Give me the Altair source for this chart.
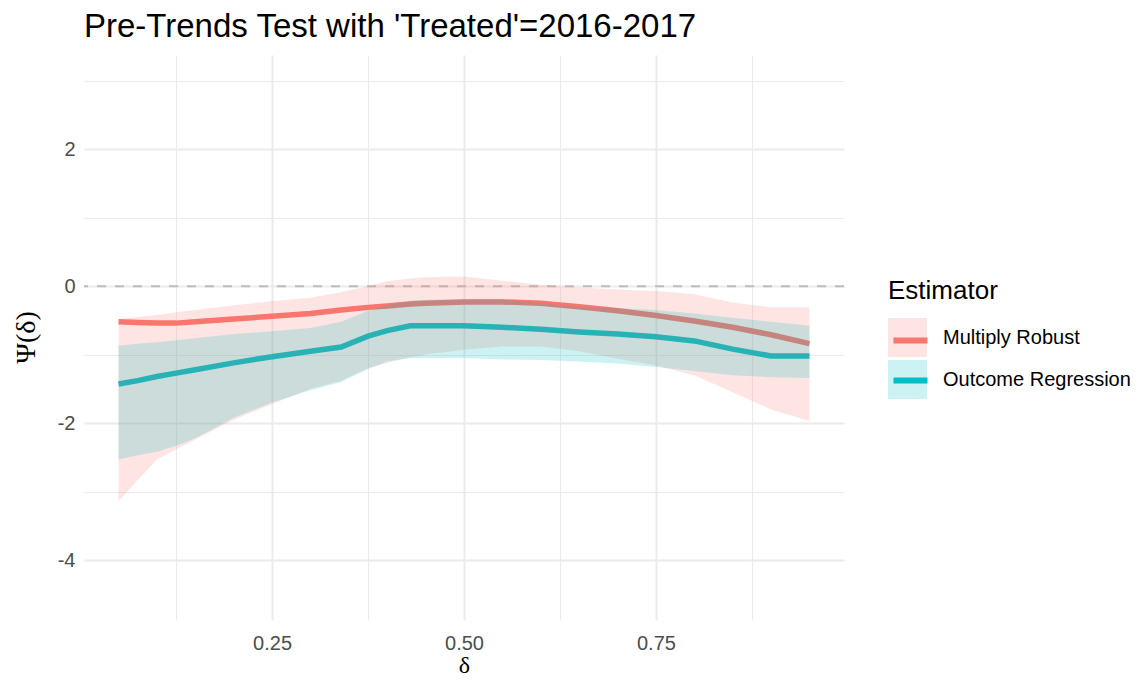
import altair as alt
import pandas as pd

# ---- data ----
delta = [0.05, 0.075, 0.10, 0.125, 0.15, 0.20, 0.25, 0.30, 0.34, 0.375, 0.40, 0.43,
         0.45, 0.50, 0.55, 0.60, 0.65, 0.70, 0.75, 0.80, 0.85, 0.90, 0.95]

mr_est = [-0.52, -0.53, -0.54, -0.54, -0.52, -0.48, -0.44, -0.40, -0.35, -0.31, -0.29, -0.26,
          -0.25, -0.23, -0.23, -0.25, -0.30, -0.36, -0.43, -0.51, -0.60, -0.71, -0.84]
mr_upper = [-0.48, -0.45, -0.42, -0.38, -0.35, -0.28, -0.22, -0.17, -0.09, 0.00, 0.07, 0.11,
            0.13, 0.14, 0.08, 0.02, -0.02, -0.05, -0.07, -0.12, -0.24, -0.31, -0.31]
mr_lower = [-3.14, -2.83, -2.53, -2.38, -2.24, -1.95, -1.72, -1.50, -1.38, -1.20, -1.12, -1.04,
            -1.00, -0.93, -0.88, -0.88, -0.95, -1.06, -1.16, -1.30, -1.55, -1.80, -1.97]

or_est = [-1.43, -1.38, -1.32, -1.27, -1.22, -1.12, -1.03, -0.95, -0.89, -0.73, -0.65, -0.58,
          -0.58, -0.58, -0.60, -0.63, -0.67, -0.70, -0.74, -0.80, -0.92, -1.02, -1.02]
or_upper = [-0.87, -0.84, -0.82, -0.79, -0.76, -0.70, -0.66, -0.61, -0.52, -0.36, -0.28, -0.21,
            -0.20, -0.19, -0.19, -0.25, -0.30, -0.32, -0.35, -0.40, -0.46, -0.52, -0.58]
or_lower = [-2.53, -2.47, -2.42, -2.33, -2.22, -1.92, -1.70, -1.52, -1.40, -1.21, -1.10, -1.05,
            -1.05, -1.05, -1.07, -1.08, -1.10, -1.13, -1.18, -1.24, -1.30, -1.33, -1.34]

estimators = ["Multiply Robust", "Outcome Regression"]
colors = ["#F8766D", "#00BFC4"]
ref_line = [0]

x_ticks = [0.125, 0.25, 0.375, 0.5, 0.625, 0.75, 0.875]
y_ticks = [-4, -3, -2, -1, 0, 1, 2, 3]

rows = []
for name, est, lo, up in [(estimators[0], mr_est, mr_lower, mr_upper),
                          (estimators[1], or_est, or_lower, or_upper)]:
    for d, e, l, u in zip(delta, est, lo, up):
        rows.append({"delta": d, "est": e, "lower": l, "upper": u, "Estimator": name})
df = pd.DataFrame(rows)

SANS = "Liberation Sans"
SERIF = "Liberation Serif"

x_scale = alt.Scale(domain=[0.005, 0.995], nice=False, zero=False)
y_scale = alt.Scale(domain=[-4.875, 3.375], nice=False, zero=False)

x_axis = alt.Axis(
    values=x_ticks,
    labelExpr="abs(datum.value*4 - round(datum.value*4)) < 0.001 ? format(datum.value, '.2f') : ''",
    grid=True, gridColor="#EBEBEB",
    gridWidth={"condition": {"test": "abs(datum.value*4 - round(datum.value*4)) < 0.001", "value": 2}, "value": 1.1},
    domain=False, ticks=False,
    labelFont=SANS, labelFontSize=20, labelColor="#4D4D4D", labelPadding=13,
    title="δ", titleFont=SERIF, titleFontSize=24, titleFontWeight="normal", titleColor="black",
    titleY=45.5, titleBaseline="middle",
)
y_axis = alt.Axis(
    values=y_ticks,
    labelExpr="datum.value % 2 == 0 ? (datum.value < 0 ? '-' + abs(datum.value) : '' + datum.value) : ''",
    grid=True, gridColor="#EBEBEB",
    gridWidth={"condition": {"test": "datum.value % 2 == 0", "value": 2}, "value": 1.1},
    domain=False, ticks=False,
    labelFont=SANS, labelFontSize=20, labelColor="#4D4D4D", labelPadding=9,
    title="Ψ(δ)", titleFont=SERIF, titleFontSize=28, titleFontWeight="normal", titleColor="black",
    titleX=-58, titleY=282, titleBaseline="middle", titleAngle=270,
)

zero = alt.Chart(pd.DataFrame({"y": ref_line})).mark_rule(
    color="#BDBDBD", strokeWidth=2, strokeDash=[9, 9]
).encode(y=alt.Y("y:Q", scale=y_scale, axis=y_axis))

lines = alt.Chart(df).mark_line(strokeWidth=5.5).encode(
    x=alt.X("delta:Q", scale=x_scale, axis=x_axis),
    y=alt.Y("est:Q", scale=y_scale, axis=y_axis),
    stroke=alt.Stroke(
        "Estimator:N",
        scale=alt.Scale(domain=estimators, range=colors),
        legend=alt.Legend(
            title=None, orient="none", legendX=806.5, legendY=265.5,
            symbolType="stroke", symbolSize=1156, symbolStrokeWidth=6,
            labelExpr="''", labelFontSize=20, labelFont=SANS, rowPadding=8, padding=0,
        ),
    ),
)

bands = alt.Chart(df).mark_area(opacity=0.2).encode(
    x=alt.X("delta:Q", scale=x_scale, axis=x_axis),
    y=alt.Y("lower:Q", scale=y_scale, axis=y_axis),
    y2="upper:Q",
    fill=alt.Fill(
        "Estimator:N",
        scale=alt.Scale(domain=estimators, range=colors),
        legend=alt.Legend(
            title="Estimator", orient="none", legendX=804, legendY=223,
            symbolType="square", symbolSize=1521, symbolOpacity=0.2, symbolStrokeWidth=0,
            labelFontSize=20, labelFont=SANS, labelColor="black", labelOffset=16, labelLimit=400,
            rowPadding=3, padding=0,
            titleFontSize=26, titleFont=SANS, titleFontWeight="normal", titleColor="black",
            titlePadding=14,
        ),
    ),
)

chart = alt.layer(zero, lines, bands).resolve_scale(fill="independent", stroke="independent").properties(
    width=760,
    height=565,
    padding={"left": 76, "top": 47, "right": 287, "bottom": 59},
    autosize=alt.AutoSizeParams(type="none"),
    title=alt.TitleParams(
        "Pre-Trends Test with 'Treated'=2016-2017",
        font=SANS, fontSize=33, fontWeight="normal", color="black",
        anchor="start", frame="group", baseline="bottom", offset=-22,
    ),
).configure(background="white").configure_view(strokeWidth=0)

chart.save("out.html", embed_options={"renderer": "svg", "actions": False})
